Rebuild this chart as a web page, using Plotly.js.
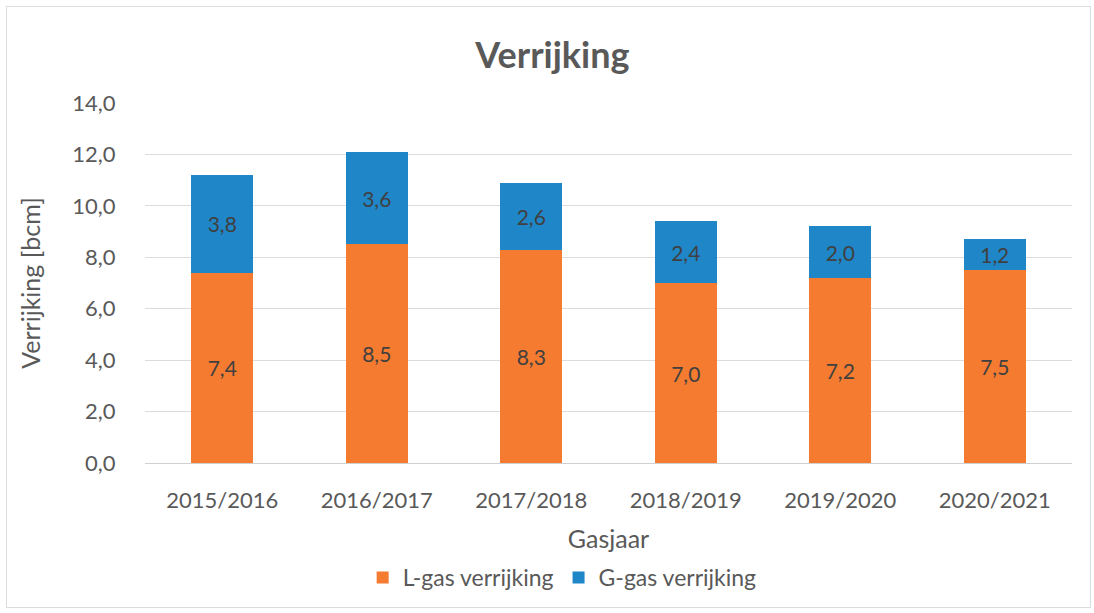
<!DOCTYPE html>
<html><head><meta charset="utf-8">
<script src="https://cdn.plot.ly/plotly-3.0.1.min.js"></script>
<style>
html,body{margin:0;padding:0;background:#fff;}
#wrap{position:relative;width:1094px;height:613px;}
#chart{width:1094px;height:613px;}
#frame{position:absolute;left:6px;top:6px;width:1083px;height:600px;border:1px solid #dcdcdc;pointer-events:none;}
</style>
</head><body>
<div id="wrap"><div id="chart"></div><div id="frame"></div></div>
<script>
const categories = ["2015/2016","2016/2017","2017/2018","2018/2019","2019/2020","2020/2021"];
const lGas = [7.4, 8.5, 8.3, 7.0, 7.2, 7.5];
const gGas = [3.8, 3.6, 2.6, 2.4, 2.0, 1.2];
const yTicks = [0,2,4,6,8,10,12,14];
const fmt = v => v.toFixed(1).replace('.', ',');
const font = "Lato, 'Open Sans', sans-serif";
const grey = "#595959";

const traces = [
  {type:'bar', name:'L-gas verrijking', x:categories, y:lGas,
   marker:{color:'#F47B30'}, text:lGas.map(fmt), textposition:'inside',
   insidetextanchor:'middle', textfont:{color:'#404040', size:21, family:font}},
  {type:'bar', name:'G-gas verrijking', x:categories, y:gGas,
   marker:{color:'#1F86C8'}, text:gGas.map(fmt), textposition:'inside',
   insidetextanchor:'middle', textfont:{color:'#404040', size:21, family:font}}
];

const layout = {
  width:1094, height:613,
  barmode:'stack', bargap:0.6,
  paper_bgcolor:'rgba(0,0,0,0)', plot_bgcolor:'#fff',
  margin:{l:145, r:22, t:103, b:150},
  font:{family:font, color:grey},
  title:{text:'<b>Verrijking</b>', x:0.505, xanchor:'center', y:0.91, yanchor:'middle',
         font:{size:36, color:grey, family:font}},
  xaxis:{title:{text:'Gasjaar', font:{size:25, color:grey}, standoff:18},
         tickfont:{size:22, color:grey}, showgrid:false, zeroline:false,
         showline:false, ticks:'outside', ticklen:18, tickcolor:'rgba(0,0,0,0)'},
  yaxis:{title:{text:'Verrijking [bcm]', font:{size:25, color:grey}, standoff:24},
         range:[0,14], tickvals:yTicks, ticktext:yTicks.map(fmt),
         tickfont:{size:22, color:grey}, gridcolor:'#dcdcdc', gridwidth:1,
         zeroline:true, zerolinecolor:'#d0d0d0', showline:false, ticks:'outside', ticklen:24, tickcolor:'rgba(0,0,0,0)'},
  legend:{orientation:'h', x:0.45, xanchor:'center', y:-0.318, yanchor:'middle',
          font:{size:23, color:grey}, traceorder:'normal'},
  showlegend:true
};
Plotly.newPlot('chart', traces, layout, {displayModeBar:false, staticPlot:true});
</script>
</body></html>
